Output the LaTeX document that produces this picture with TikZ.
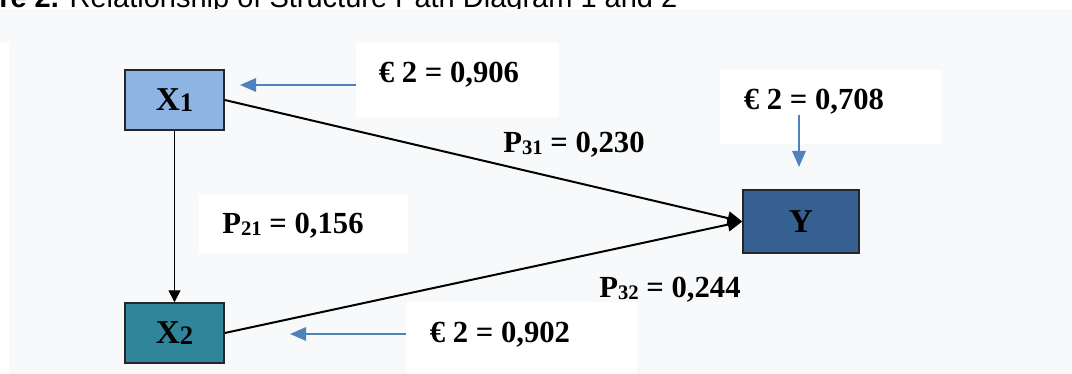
\documentclass[tikz,border=0pt]{standalone}
\usepackage{fontspec}
\setmainfont{Liberation Serif}
\setsansfont{Liberation Sans}
\usetikzlibrary{arrows.meta,positioning}
\definecolor{panel}{RGB}{248,249,250}
\definecolor{xone}{RGB}{142,180,227}
\definecolor{xtwo}{RGB}{49,133,155}
\definecolor{ybox}{RGB}{54,96,146}
\definecolor{errblue}{RGB}{79,129,189}
% subscripts as the figure sets them: large, close to the baseline
\newcommand{\lsub}[1]{\raisebox{-1.6pt}{\fontsize{15.5}{18}\selectfont#1}}
\newcommand{\xsub}[1]{\raisebox{-1.2pt}{\fontsize{20}{24}\selectfont#1}}

\begin{document}
\begin{tikzpicture}[x=0.75pt,y=-0.75pt,
  var/.style={draw=black!85, line width=1.1pt, inner sep=0pt, font=\fontsize{25}{30}\selectfont\bfseries},
  wbox/.style={fill=white, inner sep=0pt},
  lbl/.style={inner sep=0pt, font=\fontsize{23}{28}\selectfont\bfseries},
  conn/.style={line width=1.5pt, -{Triangle[length=11pt,width=10pt]}},
  err/.style={errblue, line width=1.5pt, -{Triangle[length=12pt,width=10pt]}}]
\useasboundingbox (0,0) rectangle (1072,374);
% page and caption
\fill[white] (0,0) rectangle (1072,374);
\node[anchor=base west, inner sep=0pt, font=\sffamily\fontsize{21.75}{26}\selectfont] (cap) at (-1,7.5) {\textbf{re 2.} Relationship of Structure Path Diagram 1 and 2};
\fill[panel] (0,9) rectangle (1072,374);
\fill[white] (0,43) rectangle (9,374);
% white label boxes
\node[wbox, minimum width=152.25pt, minimum height=55.5pt] (e1box) at (457.5,80) {};
\node[wbox, minimum width=166.5pt, minimum height=55.5pt] (e3box) at (831,107) {};
\node[wbox, minimum width=156.75pt, minimum height=43.5pt] (p21box) at (303.5,224) {};
% variables
\node[var, fill=xone, minimum width=74.25pt, minimum height=45pt] (X1) at (174.5,100) {X\xsub{1}};
\node[var, fill=xtwo, minimum width=74.25pt, minimum height=45pt] (X2) at (174.5,333) {X\xsub{2}};
\node[var, fill=ybox, minimum width=87pt, minimum height=47pt] (Y) at (801,221.5) {Y};
% paths
\draw[line width=1.1pt, -{Triangle[length=9pt,width=9pt]}] (X1.south) -- (X2.north);
\draw[conn] (X1.east) -- (Y.west);
\draw[conn] (X2.east) -- (Y.west);
% coefficients
\node[lbl] (p31) at (574,145) {P\lsub{31} = 0,230};
\node[lbl] (p21) at (293,226) {P\lsub{21} = 0,156};
\node[lbl] (p32) at (670,290) {P\lsub{32} = 0,244};
\node[wbox, minimum width=173.25pt, minimum height=54pt] (e2box) at (521.5,338) {};
% residuals
\node[lbl] (e1) at (449,75) {€ 2 = 0,906};
\node[lbl] (e3) at (814,102) {€ 2 = 0,708};
\node[lbl] (e2) at (500,335) {€ 2 = 0,902};
\coordinate (e1tip) at (240,85);
\coordinate (e2tip) at (290,334);
\coordinate (e3tip) at (799,167);
\draw[err] (e1box.west |- e1tip) -- (e1tip);
\draw[err] (e2box.west |- e2tip) -- (e2tip);
\draw[err] (e3tip |- e3.south) -- (e3tip);
\end{tikzpicture}
\end{document}
